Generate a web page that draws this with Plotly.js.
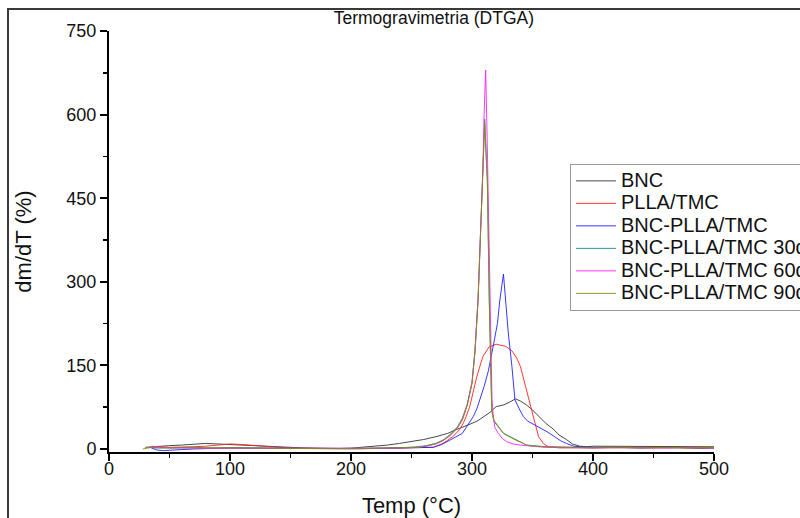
<!DOCTYPE html>
<html><head><meta charset="utf-8">
<script src="https://cdn.plot.ly/plotly-3.0.1.min.js"></script>
<style>
body{margin:0;background:#fff;}
#chart{width:800px;height:518px;}
#frame{position:absolute;left:7px;top:8px;width:800px;height:520px;border-left:2px solid #3a3a3a;border-top:2px solid #3a3a3a;pointer-events:none;}
</style>
</head><body>
<div id="chart"></div><div id="frame"></div>
<script>
// BNC
var tBNC = [30,40,50,60,70,80,90,100,110,120,130,140,150,160,170,180,190,200,210,220,230,240,250,260,270,280,285,290,296,300,305,310,315,320,326,331,336,340,345,350,356,361,367,372,378,383,389,395,400,420,440,460,480,500];
var vBNC = [3,5,6,7,8,10,9,8,6,5,4,3,2,2,1.5,1,1,1.5,3,5,7,10,13,17,22,28,33,37,43,46,51,58,66,76,79,84,90,86,79,70,56,46,36,25,17,9,5,4,5,5,4,4,5,4];
// PLLA/TMC
var tPLLA = [35,40,50,60,70,80,90,100,110,120,130,140,150,170,190,210,230,250,260,268,276,284,290,294,298,304,309,314,320,328,333,337,340,345,348,351,355,359,363,372,390,410,430,450,470,490,500];
var vPLLA = [2,4,3,3,4,5,7,9,8,6,4,3,2,1,0.5,0.5,1,1.5,2,3,10,22,35,52,75,130,166,183,188,184,176,163,148,106,80,58,22,10,4,2,2,3,2,3,2,1,2];
// BNC-PLLA/TMC
var tBP = [35,40,45,50,60,70,80,90,100,120,140,160,180,200,220,240,255,268,275,282,288,292,295,298,301,304,307,310,313.5,316,318,321,323,326,327.5,330,333,335.5,339.5,342.5,346,351,356,362,367,373,378,384,390,400,420,440,460,480,500];
var vBP = [2,-2,-3,-2,-1,0,1,1,2,1.5,1,0.5,0.5,0.5,1,1.5,2,3,8,16,22,28,38,48,58,72,92,112,140,165,190,225,267,314,267,208,148,88,70,58,50,44,39,31,24,15,10,5,4,3,3,2,3,2,2];
// BNC-PLLA/TMC 30d
var t30 = [33,40,50,60,70,80,90,100,120,140,160,180,200,220,240,255,262,270,276,282,288,292,296,300,302.5,305,307,309,310.5,311.5,312.7,314.3,315,315.5,316.3,318,321.7,326,329,334,337,342.5,345,351,360,380,400,420,440,460,480,500];
var v30 = [3,2,2,3,3,2,2,3,2,1.5,1,1,1,1.5,2,4,6,10,16,26,40,55,80,120,178,270,380,490,592,540,483,267,200,118,70,50,40,28,25,19,16,10,7,6,4,3,3,2,3,2,3,2];
// BNC-PLLA/TMC 60d
var t60 = [33,36,40,45,50,60,70,80,90,100,120,140,160,180,200,220,240,255,262,270,276,282,288,292,296,300,302.5,305,307,309,310,311.3,312.5,313.5,314.5,315.5,316.5,317.6,319,321.7,325,328.7,334,340,351,360,380,400,420,440,460,480,500];
var v60 = [2,5,4,3,2,2,1,1,1,1.5,1,1,1,0.5,0.5,1,1.5,3,5,9,15,24,38,52,78,118,176,268,385,500,600,680,560,430,300,160,90,58,38,28,19,13,9,7,5,3,3,2,3,2,2,3,2];
// BNC-PLLA/TMC 90d
var t90 = [28,35,40,50,60,70,80,90,100,120,140,160,180,200,220,240,255,262,270,276,282,288,292,296,300,302.5,305,307,309,310.5,311.5,312.7,314.3,315,315.5,316.3,318,321.7,326,329,334,337,342.5,345,351,360,380,400,420,440,460,480,500];
var v90 = [0,3,2,2,2,3,3,2,2,1.5,1,1,0.5,1,1,2,3,5,9,15,25,38,53,78,118,175,265,375,485,585,535,478,262,195,115,72,52,40,28,24,18,15,10,7,5,4,3,2,3,2,3,2,3];

var names = ['BNC','PLLA/TMC','BNC-PLLA/TMC','BNC-PLLA/TMC 30d','BNC-PLLA/TMC 60d','BNC-PLLA/TMC 90d'];
var colors = ['#333333','#ff2020','#2020ff','#109080','#ff20ff','#8a8a10'];
var xs = [tBNC,tPLLA,tBP,t30,t60,t90];
var ys = [vBNC,vPLLA,vBP,v30,v60,v90];

var traces = names.map(function(n,i){
  return {x:xs[i], y:ys[i], name:'<span style="font-size:20px">'+n+'</span>', type:'scatter', mode:'lines',
    line:{color:colors[i], width:0.9}};
});

var font = 'Arial, "Liberation Sans", sans-serif';
var layout = {
  width:800, height:518,
  margin:{l:109, r:86, t:31, b:66, autoexpand:false},
  paper_bgcolor:'#ffffff', plot_bgcolor:'#ffffff',
  font:{family:font, color:'#111'},
  title:{text:'Termogravimetria (DTGA)', font:{family:font, size:17.5, color:'#111'},
    x:0.537, xref:'paper', xanchor:'center', y:0.965, yref:'container', yanchor:'middle'},
  xaxis:{range:[0,500], dtick:100, tick0:0, ticks:'outside', ticklen:7, tickwidth:2, tickcolor:'#000',
    showline:true, linewidth:2, linecolor:'#000', showgrid:false, zeroline:false,
    minor:{ticks:'outside', ticklen:4, tickwidth:1.5, dtick:50, tickcolor:'#000', showgrid:false},
    tickfont:{family:font, size:18, color:'#111'}, ticklabelstandoff:-8,
    title:{text:'Temp (°C)', font:{family:font, size:22, color:'#111'}, standoff:22}},
  yaxis:{range:[-5.4,750], dtick:150, tick0:0, ticks:'outside', ticklen:7, tickwidth:2, tickcolor:'#000',
    showline:true, linewidth:2, linecolor:'#000', showgrid:false, zeroline:false,
    minor:{ticks:'outside', ticklen:4, tickwidth:1.5, dtick:75, tickcolor:'#000', showgrid:false},
    tickfont:{family:font, size:18, color:'#111'},
    title:{text:'dm/dT (%)', font:{family:font, size:22, color:'#111'}, standoff:29}},
  showlegend:true,
  legend:{x:0.762, y:0.685, xanchor:'left', yanchor:'top', xref:'paper', yref:'paper',
    bgcolor:'#ffffff', bordercolor:'#999', borderwidth:1, itemwidth:40,
    font:{family:font, size:15, color:'#111'}}
};
Plotly.newPlot('chart', traces, layout, {displayModeBar:false, staticPlot:true});
</script>
</body></html>
